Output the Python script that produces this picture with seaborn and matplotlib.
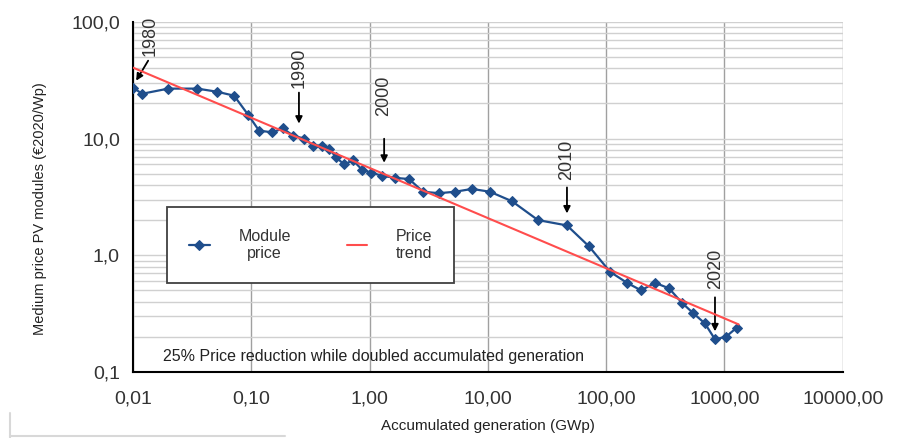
import matplotlib
matplotlib.use("Agg")
import matplotlib.pyplot as plt
import matplotlib.ticker as mticker
from matplotlib.lines import Line2D
import seaborn as sns
import pandas as pd

# accumulated generation (GWp) and module price (EUR2020/Wp)
gen = [0.0100, 0.0119, 0.0198, 0.0348, 0.0513, 0.0714, 0.0938, 0.116, 0.150, 0.185,
       0.225, 0.279, 0.333, 0.396, 0.454, 0.520, 0.608, 0.724, 0.863, 1.03,
       1.27, 1.64, 2.15, 2.83, 3.86, 5.27, 7.34, 10.4, 16.0, 26.5,
       46.6, 71.6, 108, 150, 197, 259, 340, 438, 542, 684,
       832, 1030, 1276]
price = [27.3, 24.2, 26.8, 26.8, 25.2, 23.3, 16.0, 11.7, 11.3, 12.2,
         10.6, 10.0, 8.7, 8.7, 8.2, 6.9, 6.0, 6.5, 5.4, 5.1,
         4.8, 4.6, 4.5, 3.5, 3.4, 3.5, 3.7, 3.5, 2.9, 2.0,
         1.8, 1.19, 0.72, 0.58, 0.50, 0.58, 0.52, 0.39, 0.32, 0.26,
         0.19, 0.20, 0.24]
trend_gen = [0.01, 1320]
trend_price = [40.5, 0.255]

# year marks and the point each one refers to
years = ["1980", "1990", "2000", "2010", "2020"]
year_gen = [0.0100, 0.238, 1.30, 46.6, 832]
year_price = [27.3, 10.6, 4.8, 1.8, 0.19]

df = pd.DataFrame({"gen": gen, "price": price})
df_trend = pd.DataFrame({"gen": trend_gen, "price": trend_price})

sns.set_style("white")
plt.rcParams["font.family"] = ["Liberation Sans", "DejaVu Sans"]

fig = plt.figure(figsize=(9.12, 4.38), dpi=100)
ax = fig.add_axes([0.146, 0.151, 0.778, 0.799])

sns.lineplot(x="gen", y="price", data=df, ax=ax, color="#1f4e8c", marker="D",
             markersize=5, markeredgecolor="#1f4e8c", linewidth=1.6, label="Module\nprice", zorder=3)
sns.lineplot(x="gen", y="price", data=df_trend, ax=ax, color="#ff4d4d", linewidth=1.5,
             label="Price\ntrend", zorder=4)

ax.set_xscale("log")
ax.set_yscale("log")
ax.set_xlim(0.01, 10000)
ax.set_ylim(0.1, 100)

ax.xaxis.set_major_locator(mticker.LogLocator(base=10, numticks=10))
ax.xaxis.set_minor_locator(mticker.LogLocator(base=10, subs=range(2, 10), numticks=100))
ax.yaxis.set_major_locator(mticker.LogLocator(base=10, numticks=10))
ax.yaxis.set_minor_locator(mticker.LogLocator(base=10, subs=range(2, 10), numticks=100))
ax.xaxis.set_major_formatter(mticker.FuncFormatter(lambda v, p: f"{v:.2f}".replace(".", ",")))
ax.yaxis.set_major_formatter(mticker.FuncFormatter(lambda v, p: f"{v:.1f}".replace(".", ",")))
ax.xaxis.set_minor_formatter(mticker.NullFormatter())
ax.yaxis.set_minor_formatter(mticker.NullFormatter())

ax.grid(True, which="major", axis="x", color="#a0a0a0", linewidth=1.0)
ax.grid(True, which="both", axis="y", color="#d0d0d0", linewidth=1.0)
ax.set_axisbelow(True)

for s in ["top", "right"]:
    ax.spines[s].set_visible(False)
for s in ["left", "bottom"]:
    ax.spines[s].set_color("black")
    ax.spines[s].set_linewidth(1.5)
ax.tick_params(axis="both", which="major", direction="inout", length=7, width=1.3,
               labelsize=14, colors="black", labelcolor="#333333", pad=6)
ax.tick_params(axis="both", which="minor", direction="inout", length=4, width=1.0, colors="black")
ax.tick_params(axis="x", which="major", pad=10)

ax.set_xlabel("Accumulated generation (GWp)", fontsize=11, color="#222222", labelpad=8)
ax.set_ylabel("Medium price PV modules (\u20ac2020/Wp)", fontsize=10.5, color="#222222")
ax.yaxis.set_label_coords(-0.122, 0.466)

# year annotations: offsets in pixels (arrow head, arrow tail, text bottom)
arrow_kw = dict(arrowstyle="-|>", color="black", lw=1.3, mutation_scale=10, shrinkA=0, shrinkB=0)
txt_kw = dict(rotation=90, fontsize=13, color="#333333", ha="center", va="bottom")
head_off = [(3, 7), (3, 12), (1, 13), (0, 12), (0, 8)]
tail_off = [(15, 27), (3, 43), (1, 37), (0, 38), (0, 42)]
text_off = [(17, 32), (3, 48), (0, 60), (0, 45), (1, 50)]
for yr, gx, py, h, t, tx in zip(years, year_gen, year_price, head_off, tail_off, text_off):
    x0, y0 = ax.transData.transform((gx, py))
    ax.annotate("", xy=(x0 + h[0], y0 + h[1]), xytext=(x0 + t[0], y0 + t[1]),
                xycoords="figure pixels", textcoords="figure pixels", arrowprops=arrow_kw)
    ax.annotate(yr, xy=(gx, py), xytext=tx, textcoords="offset pixels", **txt_kw)

ax.text(0.042, 0.032, "25% Price reduction while doubled accumulated generation",
        transform=ax.transAxes, fontsize=11.5, color="#222222")

leg = ax.legend(loc="upper left", ncol=2, bbox_to_anchor=(0.048, 0.471), borderaxespad=0,
                fancybox=False, framealpha=1, edgecolor="#404040", fontsize=11.5,
                handlelength=1.3, handletextpad=1.8, borderpad=1.35, columnspacing=3.5)
leg.get_frame().set_linewidth(1.3)
for t in leg.get_texts():
    t.set_multialignment("center")
    t.set_color("#333333")

# faint border of the original screenshot
fig.add_artist(Line2D([10 / 912, 10 / 912], [0.0, 25 / 438], color="#d8d8d8", lw=1.5))
fig.add_artist(Line2D([10 / 912, 285 / 912], [2 / 438, 2 / 438], color="#d8d8d8", lw=1.5))

fig.savefig("out.png", dpi=100)
